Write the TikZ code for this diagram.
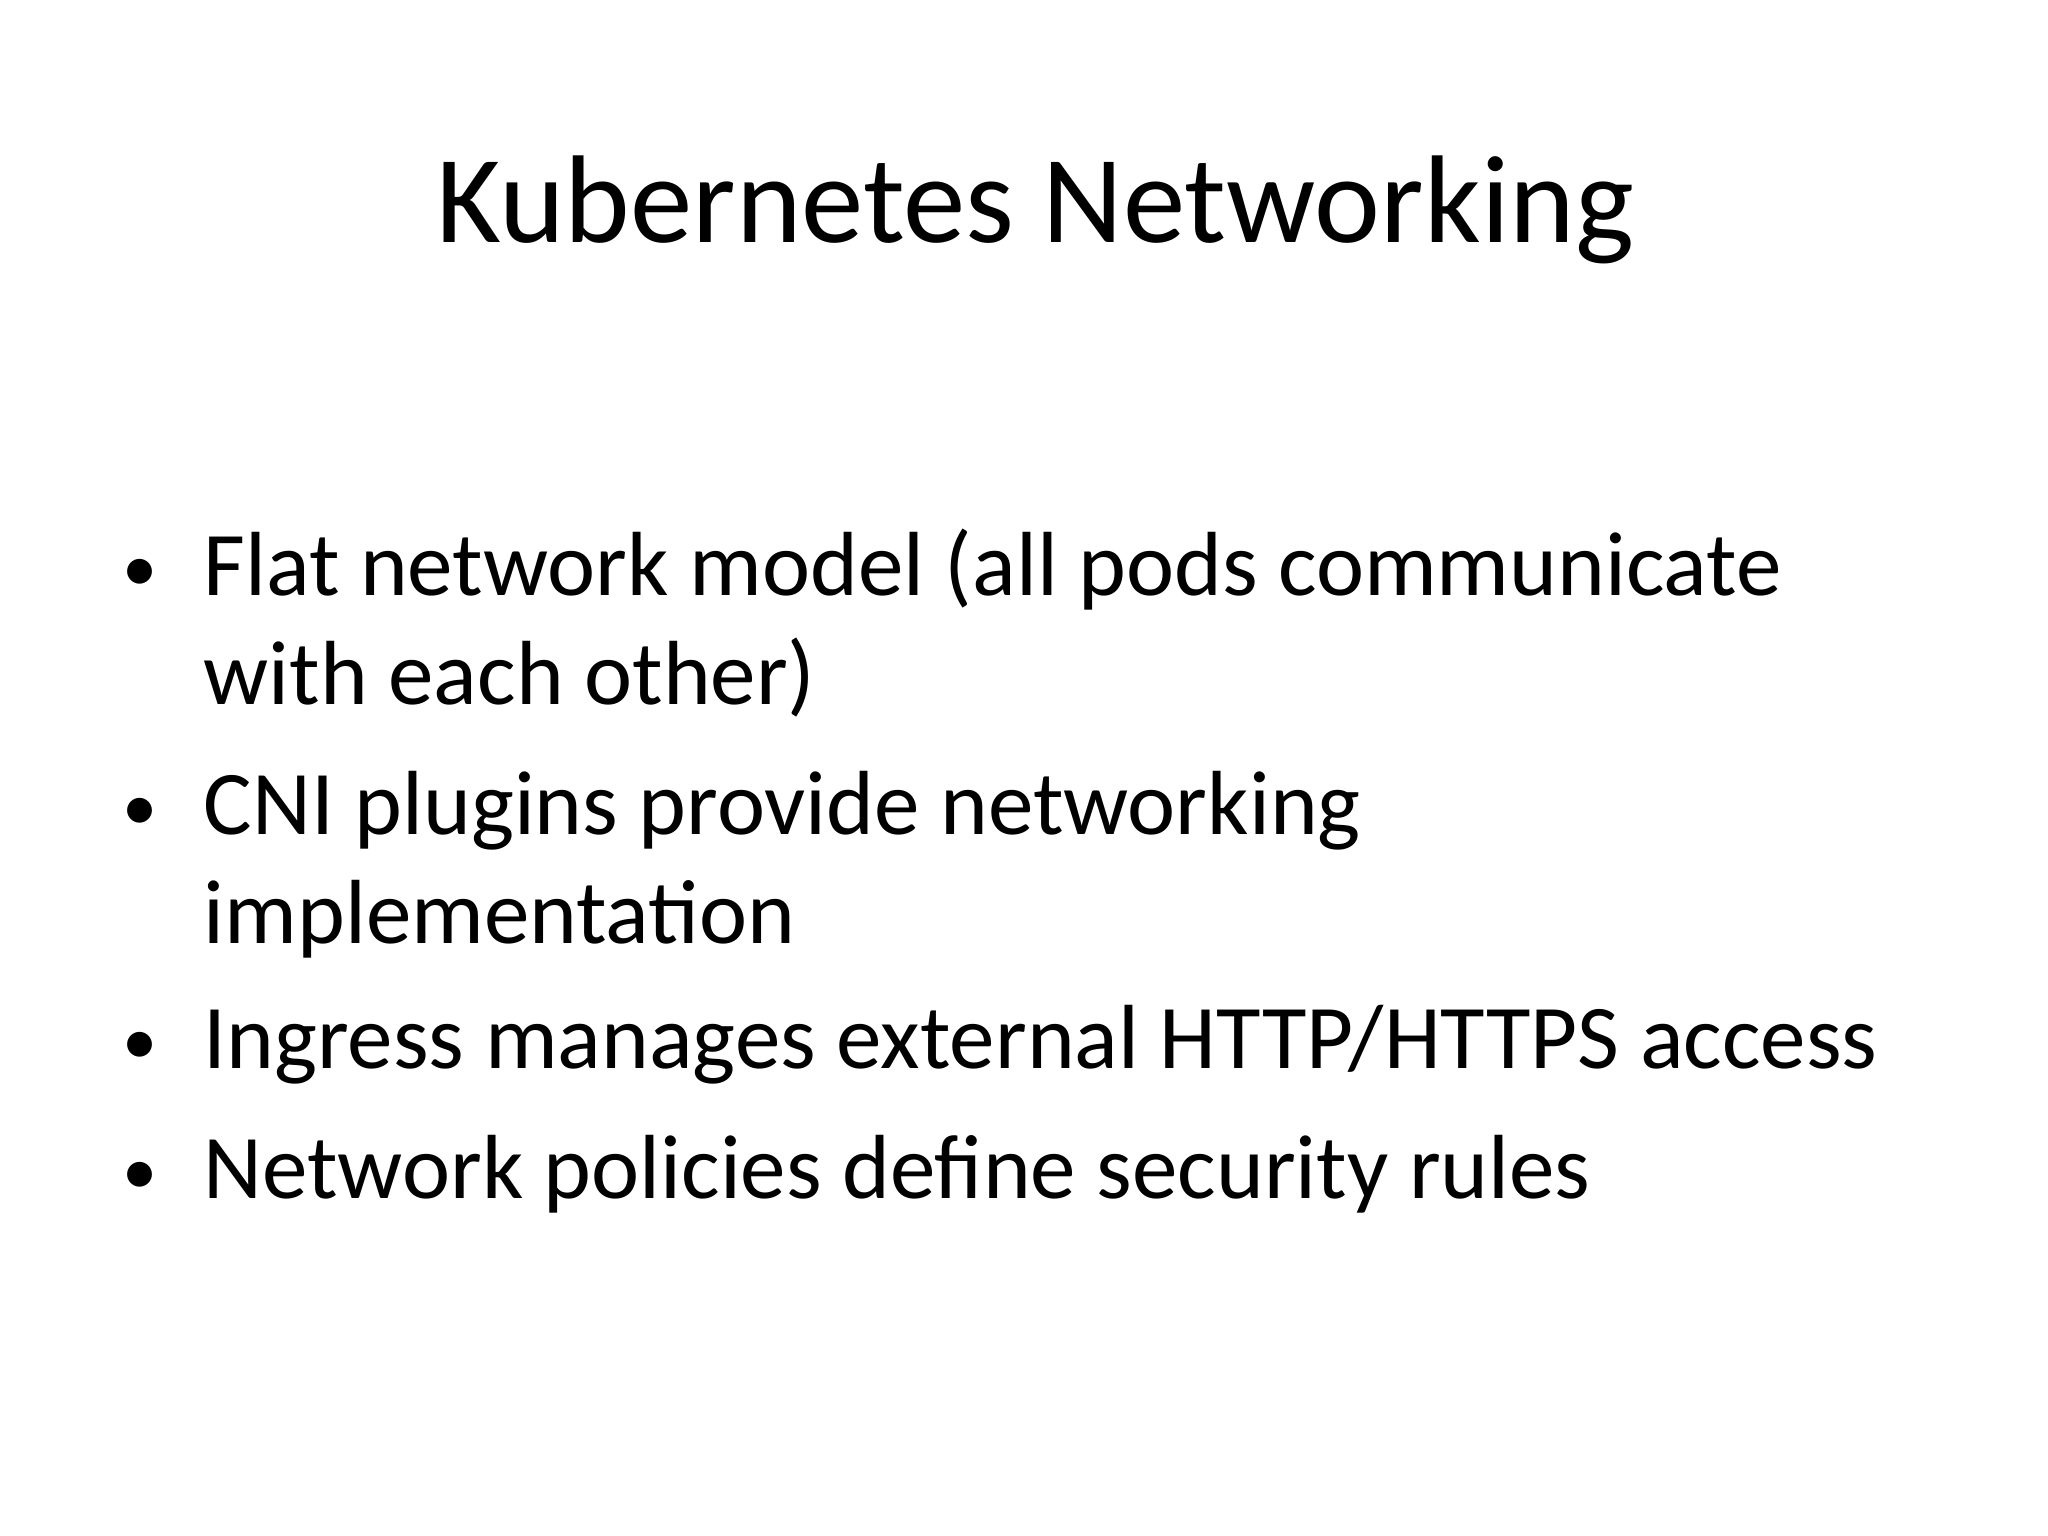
\documentclass[tikz,border=0pt]{standalone}
\usepackage{fontspec}
\setmainfont{Carlito}
\begin{document}
\begin{tikzpicture}[x=0.01cm,y=-0.01cm,
  body/.style={anchor=base west,inner sep=0pt,font=\fontsize{25.9}{31}\selectfont},
  dot/.style={anchor=base,inner sep=0pt,font=\fontsize{20}{24}\selectfont}]
\useasboundingbox (0,0) rectangle (2048,1536);
\node[anchor=base,inner sep=0pt,font=\fontsize{35.5}{42}\selectfont] (title) at (1035,242) {Kubernetes Networking};
\node[dot] (b1) at (140,591) {•};
\node[body] (t1) at (203,595) {Flat network model (all pods communicate};
\node[body] (t1b) at (203,704) {with each other)};
\node[dot] (b2) at (140,830) {•};
\node[body] (t2) at (203,834) {CNI plugins provide networking};
\node[body] (t2b) at (203,943) {implementation};
\node[dot] (b3) at (140,1064) {•};
\node[body] (t3) at (203,1068) {Ingress manages external HTTP/HTTPS access};
\node[dot] (b4) at (140,1194) {•};
\node[body] (t4) at (203,1198) {Network policies define security rules};
\end{tikzpicture}
\end{document}
